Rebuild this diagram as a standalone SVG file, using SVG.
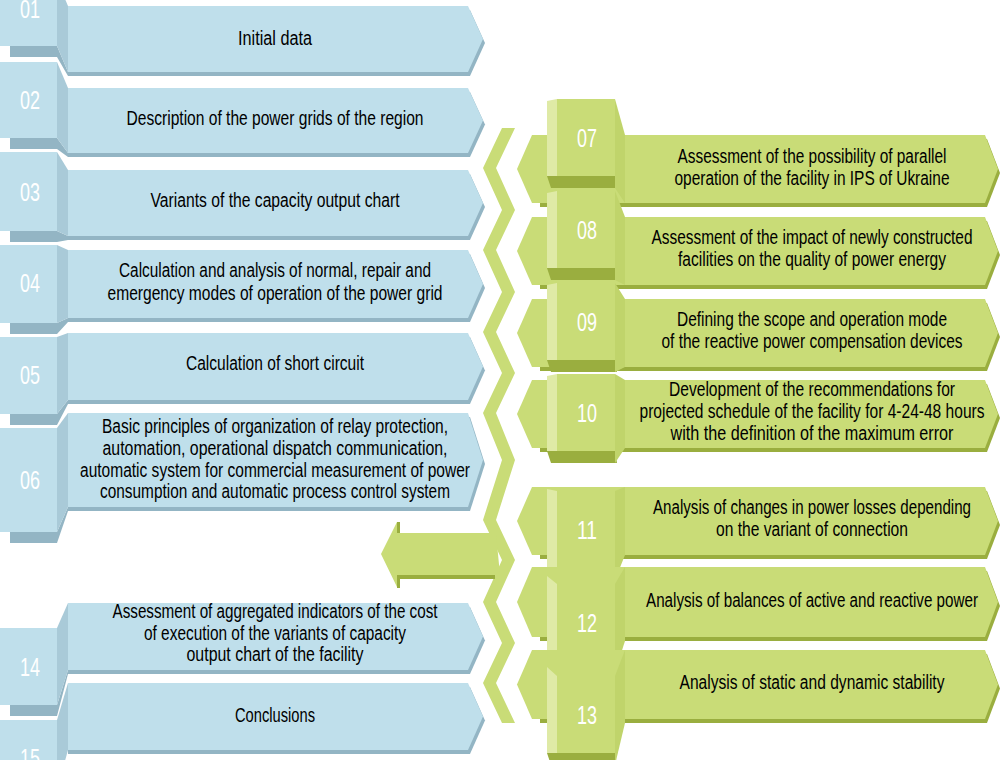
<svg xmlns="http://www.w3.org/2000/svg" width="1000" height="760" viewBox="0 0 1000 760">
  <style>
    .b-bar{fill:#bfdfeb}
    .b-side{fill:#a9cad8}
    .b-dark{fill:#93b5c4}
    .g-bar{fill:#c9dc77}
    .g-light{fill:#dfeaa6}
    .g-side{fill:#c0d46b}
    .g-dark{fill:#9aae3f}
    .t{font-family:"Liberation Sans",Arial,sans-serif;font-size:20px;fill:#000000;text-anchor:middle}
    .n{font-family:"Liberation Sans",Arial,sans-serif;font-size:25px;fill:#ffffff;text-anchor:middle}
  </style>
  <rect width="1000" height="760" fill="#ffffff"/>

  <!-- central zigzag band and return arrow -->
  <g id="connectors">
    <path class="g-bar" d="M502,128 L515,128 L496,168 L515,210 L496,250 L515,292 L496,332 L515,373 L496,413 L515,460 L496,520 L515,560 L496,602 L515,643 L496,683 L515,723 L502,723 L483,683 L502,643 L483,602 L502,560 L483,520 L502,460 L483,413 L502,373 L483,332 L502,292 L483,250 L502,210 L483,168 Z"/>
    <rect class="g-dark" x="397" y="575" width="98" height="4"/>
    <rect class="g-dark" x="397" y="522" width="3" height="12"/>
    <rect class="g-dark" x="397" y="575" width="3" height="13"/>
    <path class="g-bar" d="M496,533 L397,533 L397,522 L381,554 L397,587 L397,575 L500,575 Z"/>
  </g>

  <!-- left column -->
  <g id="step01">
    <polygon class="b-dark" points="68,10 470,10 485,43 470,76 68,76"/>
    <polygon class="b-bar" points="68,6 468,6 483,39 468,72 68,72"/>
    <polygon class="b-dark" points="10,46 57,46 68,72 68,76 57,57 10,57"/>
    <polygon class="b-side" points="57,-20 68,6 68,72 57,46"/>
    <rect class="b-bar" x="0" y="-20" width="57" height="66"/>
    <text class="n" x="30" y="18" textLength="20" lengthAdjust="spacingAndGlyphs">01</text>
    <text class="t" x="275" y="45" textLength="74" lengthAdjust="spacingAndGlyphs">Initial data</text>
  </g>

  <g id="step02">
    <polygon class="b-dark" points="68,92 470,92 485,124.5 470,157 68,157"/>
    <polygon class="b-bar" points="68,88 468,88 483,120.5 468,153 68,153"/>
    <polygon class="b-dark" points="10,138 57,138 68,153 68,157 57,149 10,149"/>
    <polygon class="b-side" points="57,62 68,88 68,153 57,138"/>
    <rect class="b-bar" x="0" y="62" width="57" height="76"/>
    <text class="n" x="30" y="109" textLength="20" lengthAdjust="spacingAndGlyphs">02</text>
    <text class="t" x="275" y="125" textLength="297" lengthAdjust="spacingAndGlyphs">Description of the power grids of the region</text>
  </g>

  <g id="step03">
    <polygon class="b-dark" points="68,174 470,174 485,207 470,240 68,240"/>
    <polygon class="b-bar" points="68,170 468,170 483,203 468,236 68,236"/>
    <polygon class="b-dark" points="10,231 57,231 68,236 68,240 57,242 10,242"/>
    <polygon class="b-side" points="57,152 68,170 68,236 57,231"/>
    <rect class="b-bar" x="0" y="152" width="57" height="79"/>
    <text class="n" x="30" y="201" textLength="20" lengthAdjust="spacingAndGlyphs">03</text>
    <text class="t" x="275" y="207" textLength="249" lengthAdjust="spacingAndGlyphs">Variants of the capacity output chart</text>
  </g>

  <g id="step04">
    <polygon class="b-dark" points="68,254 470,254 485,288 470,322 68,322"/>
    <polygon class="b-bar" points="68,250 468,250 483,284 468,318 68,318"/>
    <polygon class="b-dark" points="10,323 57,323 68,318 68,322 57,334 10,334"/>
    <polygon class="b-side" points="57,245 68,250 68,318 57,323"/>
    <rect class="b-bar" x="0" y="245" width="57" height="78"/>
    <text class="n" x="30" y="292" textLength="20" lengthAdjust="spacingAndGlyphs">04</text>
    <text class="t" x="275" y="277" textLength="312" lengthAdjust="spacingAndGlyphs">Calculation and analysis of normal, repair and</text>
    <text class="t" x="275" y="300" textLength="335" lengthAdjust="spacingAndGlyphs">emergency modes of operation of the power grid</text>
  </g>

  <g id="step05">
    <polygon class="b-dark" points="68,337 470,337 485,370.5 470,404 68,404"/>
    <polygon class="b-bar" points="68,333 468,333 483,366.5 468,400 68,400"/>
    <polygon class="b-dark" points="10,414 57,414 68,400 68,404 57,425 10,425"/>
    <polygon class="b-side" points="57,337 68,333 68,400 57,414"/>
    <rect class="b-bar" x="0" y="337" width="57" height="77"/>
    <text class="n" x="30" y="384" textLength="20" lengthAdjust="spacingAndGlyphs">05</text>
    <text class="t" x="275" y="370" textLength="178" lengthAdjust="spacingAndGlyphs">Calculation of short circuit</text>
  </g>

  <g id="step06">
    <polygon class="b-dark" points="68,417 470,417 485,464 470,511 68,511"/>
    <polygon class="b-bar" points="68,413 468,413 483,460 468,507 68,507"/>
    <polygon class="b-dark" points="10,532 57,532 68,507 68,511 57,543 10,543"/>
    <polygon class="b-side" points="57,428 68,413 68,507 57,532"/>
    <rect class="b-bar" x="0" y="428" width="57" height="104"/>
    <text class="n" x="30" y="489" textLength="20" lengthAdjust="spacingAndGlyphs">06</text>
    <text class="t" x="275" y="433" textLength="346" lengthAdjust="spacingAndGlyphs">Basic principles of organization of relay protection,</text>
    <text class="t" x="275" y="455" textLength="345" lengthAdjust="spacingAndGlyphs">automation, operational dispatch communication,</text>
    <text class="t" x="275" y="477" textLength="390" lengthAdjust="spacingAndGlyphs">automatic system for commercial measurement of power</text>
    <text class="t" x="275" y="498" textLength="350" lengthAdjust="spacingAndGlyphs">consumption and automatic process control system</text>
  </g>

  <g id="step14">
    <polygon class="b-dark" points="68,607 470,607 485,640.5 470,674 68,674"/>
    <polygon class="b-bar" points="68,603 468,603 483,636.5 468,670 68,670"/>
    <polygon class="b-dark" points="10,705 57,705 68,670 68,674 57,716 10,716"/>
    <polygon class="b-side" points="57,628 68,603 68,670 57,705"/>
    <rect class="b-bar" x="0" y="628" width="57" height="77"/>
    <text class="n" x="30" y="676" textLength="20" lengthAdjust="spacingAndGlyphs">14</text>
    <text class="t" x="275" y="618" textLength="325" lengthAdjust="spacingAndGlyphs">Assessment of aggregated indicators of the cost</text>
    <text class="t" x="275" y="640" textLength="262" lengthAdjust="spacingAndGlyphs">of execution of the variants of capacity</text>
    <text class="t" x="275" y="661" textLength="177" lengthAdjust="spacingAndGlyphs">output chart of the facility</text>
  </g>

  <g id="step15">
    <polygon class="b-dark" points="68,687 470,687 485,720.5 470,754 68,754"/>
    <polygon class="b-bar" points="68,683 468,683 483,716.5 468,750 68,750"/>
    <polygon class="b-side" points="57,720 68,683 68,750 57,790"/>
    <rect class="b-bar" x="0" y="720" width="57" height="70"/>
    <text class="n" x="30" y="767" textLength="20" lengthAdjust="spacingAndGlyphs">15</text>
    <text class="t" x="275" y="722" textLength="80" lengthAdjust="spacingAndGlyphs">Conclusions</text>
  </g>

  <!-- right column -->
  <g id="step07">
    <polygon class="g-dark" points="540,139 987,139 1000,173 987,207 540,207"/>
    <polygon class="g-bar" points="532,135 985,135 998,169 985,203 532,203 517,169"/>
    <polygon class="g-dark" points="547,176 615,176 617,188 551,188"/>
    <polygon class="g-side" points="615,99 625,135 625,203 615,188"/>
    <polygon class="g-light" points="547,101 557,99 557,176 547,176"/>
    <rect class="g-bar" x="557" y="99" width="58" height="77"/>
    <text class="n" x="587" y="147" textLength="20" lengthAdjust="spacingAndGlyphs">07</text>
    <text class="t" x="812" y="163" textLength="269" lengthAdjust="spacingAndGlyphs">Assessment of the possibility of parallel</text>
    <text class="t" x="812" y="185" textLength="275" lengthAdjust="spacingAndGlyphs">operation of the facility in IPS of Ukraine</text>
  </g>

  <g id="step08">
    <polygon class="g-dark" points="540,221 987,221 1000,255 987,289 540,289"/>
    <polygon class="g-bar" points="532,217 985,217 998,251 985,285 532,285 517,251"/>
    <polygon class="g-dark" points="547,268 615,268 617,280 551,280"/>
    <polygon class="g-side" points="615,191 625,217 625,285 615,280"/>
    <polygon class="g-light" points="547,193 557,191 557,268 547,268"/>
    <rect class="g-bar" x="557" y="191" width="58" height="77"/>
    <text class="n" x="587" y="239" textLength="20" lengthAdjust="spacingAndGlyphs">08</text>
    <text class="t" x="812" y="244" textLength="321" lengthAdjust="spacingAndGlyphs">Assessment of the impact of newly constructed</text>
    <text class="t" x="812" y="266" textLength="268" lengthAdjust="spacingAndGlyphs">facilities on the quality of power energy</text>
  </g>

  <g id="step09">
    <polygon class="g-dark" points="540,303 987,303 1000,337 987,371 540,371"/>
    <polygon class="g-bar" points="532,299 985,299 998,333 985,367 532,367 517,333"/>
    <polygon class="g-dark" points="547,360 615,360 617,372 551,372"/>
    <polygon class="g-side" points="615,283 625,299 625,367 615,372"/>
    <polygon class="g-light" points="547,285 557,283 557,360 547,360"/>
    <rect class="g-bar" x="557" y="283" width="58" height="77"/>
    <text class="n" x="587" y="331" textLength="20" lengthAdjust="spacingAndGlyphs">09</text>
    <text class="t" x="812" y="326" textLength="270" lengthAdjust="spacingAndGlyphs">Defining the scope and operation mode</text>
    <text class="t" x="812" y="348" textLength="301" lengthAdjust="spacingAndGlyphs">of the reactive power compensation devices</text>
  </g>

  <g id="step10">
    <polygon class="g-dark" points="540,384 987,384 1000,418 987,452 540,452"/>
    <polygon class="g-bar" points="532,380 985,380 998,414 985,448 532,448 517,414"/>
    <polygon class="g-dark" points="547,451 615,451 617,463 551,463"/>
    <polygon class="g-side" points="615,374 625,380 625,448 615,463"/>
    <polygon class="g-light" points="547,376 557,374 557,451 547,451"/>
    <rect class="g-bar" x="557" y="374" width="58" height="77"/>
    <text class="n" x="587" y="422" textLength="20" lengthAdjust="spacingAndGlyphs">10</text>
    <text class="t" x="812" y="396" textLength="286" lengthAdjust="spacingAndGlyphs">Development of the recommendations for</text>
    <text class="t" x="812" y="418" textLength="345" lengthAdjust="spacingAndGlyphs">projected schedule of the facility for 4-24-48 hours</text>
    <text class="t" x="812" y="440" textLength="283" lengthAdjust="spacingAndGlyphs">with the definition of the maximum error</text>
  </g>

  <g id="step11">
    <polygon class="g-dark" points="540,491 987,491 1000,525 987,559 540,559"/>
    <polygon class="g-bar" points="532,487 985,487 998,521 985,555 532,555 517,521"/>
    <polygon class="g-dark" points="547,568 615,568 617,580 551,580"/>
    <polygon class="g-side" points="615,491 625,487 625,555 615,580"/>
    <polygon class="g-light" points="547,489 557,491 557,568 547,568"/>
    <rect class="g-bar" x="557" y="491" width="58" height="77"/>
    <text class="n" x="587" y="539" textLength="20" lengthAdjust="spacingAndGlyphs">11</text>
    <text class="t" x="812" y="514" textLength="318" lengthAdjust="spacingAndGlyphs">Analysis of changes in power losses depending</text>
    <text class="t" x="812" y="536" textLength="192" lengthAdjust="spacingAndGlyphs">on the variant of connection</text>
  </g>

  <g id="step12">
    <polygon class="g-dark" points="540,571 987,571 1000,606 987,641 540,641"/>
    <polygon class="g-bar" points="532,567 985,567 998,602 985,637 532,637 517,602"/>
    <polygon class="g-dark" points="547,661 615,661 617,672 551,672"/>
    <polygon class="g-side" points="615,584 625,567 625,641 615,672"/>
    <polygon class="g-light" points="547,576 557,584 557,661 547,661"/>
    <rect class="g-bar" x="557" y="584" width="58" height="77"/>
    <text class="n" x="587" y="632" textLength="20" lengthAdjust="spacingAndGlyphs">12</text>
    <text class="t" x="812" y="607" textLength="332" lengthAdjust="spacingAndGlyphs">Analysis of balances of active and reactive power</text>
  </g>

  <g id="step13">
    <polygon class="g-dark" points="540,654 987,654 1000,688.5 987,723 540,723"/>
    <polygon class="g-bar" points="532,650 985,650 998,684.5 985,719 532,719 517,684.5"/>
    <polygon class="g-dark" points="547,753 615,753 617,765 551,765"/>
    <polygon class="g-side" points="615,676 625,650 625,723 615,765"/>
    <polygon class="g-light" points="547,667 557,676 557,753 547,753"/>
    <rect class="g-bar" x="557" y="676" width="58" height="77"/>
    <text class="n" x="587" y="724" textLength="20" lengthAdjust="spacingAndGlyphs">13</text>
    <text class="t" x="812" y="689" textLength="265" lengthAdjust="spacingAndGlyphs">Analysis of static and dynamic stability</text>
  </g>
</svg>
